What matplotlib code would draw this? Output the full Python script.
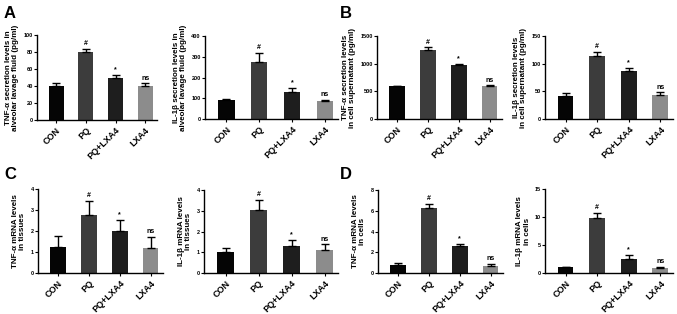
import numpy as np
import matplotlib
matplotlib.use('Agg')
import matplotlib.pyplot as plt

plt.rcParams['font.family'] = ['Liberation Sans', 'DejaVu Sans']
plt.rcParams['font.weight'] = 'bold'

groups = ['CON', 'PQ', 'PQ+LXA4', 'LXA4']
colors = ['#050505', '#3c3c3c', '#1e1e1e', '#8c8c8c']
marks = ['', '#', '*', 'ns']

# means and upper error (SD) per panel
tnf_balf = [40, 80, 50, 40]
tnf_balf_err = [3, 4, 3.5, 3]
il1_balf = [90, 275, 128, 85]
il1_balf_err = [8, 45, 20, 8]
tnf_sup = [590, 1255, 970, 590]
tnf_sup_err = [15, 40, 25, 20]
il1_sup = [42, 114, 86, 43]
il1_sup_err = [5, 7, 7, 5]
tnf_tis = [1.25, 2.78, 2.0, 1.2]
tnf_tis_err = [0.5, 0.65, 0.52, 0.52]
il1_tis = [1.0, 3.05, 1.28, 1.1]
il1_tis_err = [0.2, 0.47, 0.3, 0.28]
tnf_cell = [0.8, 6.3, 2.6, 0.65]
tnf_cell_err = [0.15, 0.35, 0.2, 0.25]
il1_cell = [1.0, 9.8, 2.5, 0.9]
il1_cell_err = [0.15, 1.0, 0.7, 0.15]

panels = [
    # data, err, ylim, ticks, ylabel, pixel box (left, top, right, bottom)
    (tnf_balf, tnf_balf_err, 100, [0, 20, 40, 60, 80, 100],
     'TNF-\u03b1 secretion levels in\nalveolar lavage fluid (pg/ml)', (37, 35, 157, 120)),
    (il1_balf, il1_balf_err, 400, [0, 100, 200, 300, 400],
     'IL-1\u03b2 secretion levels in\nalveolar lavage fluid (pg/ml)', (205, 36, 338, 119)),
    (tnf_sup, tnf_sup_err, 1500, [0, 500, 1000, 1500],
     'TNF-\u03b1 secretion levels\nin cell supernatant (pg/ml)', (377, 36, 502, 119)),
    (il1_sup, il1_sup_err, 150, [0, 50, 100, 150],
     'IL-1\u03b2 secretion levels\nin cell supernatant (pg/ml)', (545, 36, 673, 119)),
    (tnf_tis, tnf_tis_err, 4, [0, 1, 2, 3, 4],
     'TNF-\u03b1 mRNA levels\nin tissues', (38, 189, 163, 273)),
    (il1_tis, il1_tis_err, 4, [0, 1, 2, 3, 4],
     'IL-1\u03b2 mRNA levels\nin tissues', (204, 190, 338, 273)),
    (tnf_cell, tnf_cell_err, 8, [0, 2, 4, 6, 8],
     'TNF-\u03b1 mRNA levels\nin cells', (378, 190, 503, 273)),
    (il1_cell, il1_cell_err, 15, [0, 5, 10, 15],
     'IL-1\u03b2 mRNA levels\nin cells', (545, 189, 673, 273)),
]

W, H = 677, 314
fig = plt.figure(figsize=(W / 100, H / 100), dpi=100)

x = np.arange(len(groups))
for vals, errs, ymax, ticks, ylab, (l, t, r, b) in panels:
    ax = fig.add_axes([l / W, 1 - b / H, (r - l) / W, (b - t) / H])
    ax.bar(x, vals, width=0.5, color=colors, edgecolor='none', zorder=2)
    ax.errorbar(x, vals, yerr=[np.zeros(4), errs], fmt='none', ecolor='black',
                elinewidth=1, capsize=3, capthick=1, zorder=3)
    for i in range(4):
        if marks[i]:
            ax.text(x[i], vals[i] + errs[i] + ymax * 0.02, marks[i], ha='center',
                    va='bottom', fontsize=5, fontweight='bold')
    ax.set_xlim(-0.65, 3.4)
    ax.set_ylim(0, ymax)
    ax.set_yticks(ticks)
    ax.set_xticks(x)
    ax.set_xticklabels(groups, rotation=45, ha='right', rotation_mode='anchor',
                       fontsize=6.5, fontweight='bold')
    ax.tick_params(axis='y', labelsize=4, length=2, width=0.8, pad=1)
    ax.tick_params(axis='x', length=2, width=0.8, pad=2)
    for s in ['top', 'right']:
        ax.spines[s].set_visible(False)
    for s in ['left', 'bottom']:
        ax.spines[s].set_linewidth(1)
    ax.set_ylabel(ylab, fontsize=5.8, fontweight='bold', labelpad=3, linespacing=1.05)

for letter, px, py in [('A', 4, 6), ('B', 340, 6), ('C', 4, 167), ('D', 340, 167)]:
    fig.text(px / W, 1 - py / H, letter, fontsize=12, fontweight='bold', va='top', ha='left')

fig.savefig('out.png', dpi=100, facecolor='white')
